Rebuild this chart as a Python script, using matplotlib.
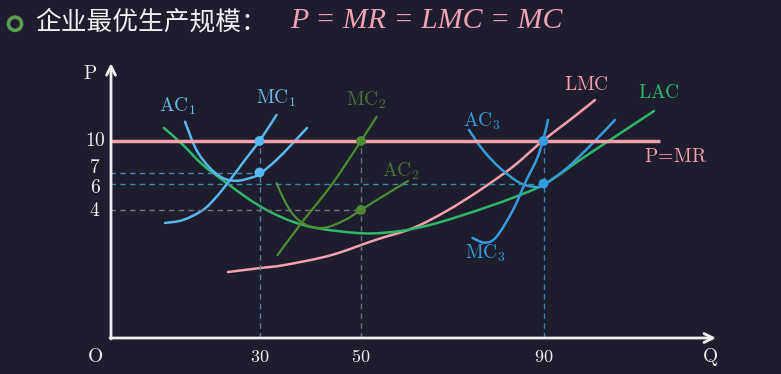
import matplotlib
matplotlib.use('Agg')
import matplotlib.pyplot as plt
from matplotlib.path import Path
from matplotlib.patches import PathPatch

plt.rcParams['font.family'] = ['Noto Sans CJK SC', 'DejaVu Sans']
plt.rcParams['mathtext.fontset'] = 'cm'

# curves in diagram units (x: quantity axis, y: price axis, schematic)
ac1_x = [15.0, 17.3, 20.0, 22.6, 25.3, 28.0, 29.9, 33.3, 36.6, 39.4]
ac1_y = [10.98, 9.54, 8.63, 8.12, 7.98, 8.12, 8.32, 9.04, 9.90, 10.66]

mc1_x = [11.0, 14.6, 18.6, 21.3, 24.0, 27.3, 29.9, 33.3]
mc1_y = [5.84, 5.99, 6.50, 7.17, 8.02, 9.14, 10.0, 11.32]

lac_x = [10.8, 14.6, 18.6, 23.3, 28.0, 32.0, 36.6, 42.0, 51.0, 58.0,
         64.0, 70.0, 76.0, 81.0, 87.0, 94.0, 100.6, 108.8]
lac_y = [10.66, 9.80, 8.78, 7.87, 7.01, 6.41, 5.90, 5.55, 5.31, 5.43,
         5.74, 6.19, 6.70, 7.16, 7.82, 9.04, 10.15, 11.52]

mc2_x = [33.5, 38.3, 44.3, 50.2, 53.3]
mc2_y = [4.21, 5.84, 7.77, 10.0, 11.23]

ac2_x = [33.3, 35.0, 37.0, 39.6, 43.0, 47.0, 50.2, 55.0, 59.6]
ac2_y = [7.87, 6.92, 6.16, 5.70, 5.60, 5.99, 6.50, 7.26, 7.97]

lmc_x = [23.6, 30.0, 35.0, 44.3, 53.0, 60.6, 67.4, 74.0, 80.6, 86.6, 92.0, 97.0]
lmc_y = [3.35, 3.55, 3.71, 4.21, 4.97, 5.58, 6.46, 7.51, 8.70, 10.02, 11.07, 12.08]

ac3_x = [71.8, 74.6, 78.0, 82.0, 85.4, 87.0, 91.4, 96.6, 101.0]
ac3_y = [10.56, 9.54, 8.63, 7.87, 7.66, 7.82, 8.63, 9.90, 11.07]

mc3_x = [72.5, 75.0, 77.3, 80.6, 83.3, 85.3, 86.6, 87.6]
mc3_y = [5.08, 4.84, 5.14, 6.50, 8.02, 9.04, 10.02, 11.07]

# optimum points for the three plant sizes
q_labels = ['30', '50', '90']
q_pos = [29.9, 50.2, 86.7]
mc_at_q = [10.0, 10.0, 10.0]
ac_at_q = [8.4, 6.5, 7.84]

p_labels = ['10', '7', '6', '4']
p_pos = [10.0, 8.4, 7.84, 6.5]

mr_level = 10.0
mr_end = 110.0

BG = '#1e1d2d'
PINK = '#f5a0aa'
GREEN = '#2db86a'
BLUE1 = '#5ab6ee'
BLUE3 = '#369bdc'
OLIVE = '#4f8a35'
WHITE = '#f0f0f0'


def smooth_curve(ax, xs, ys, color, lw):
    # Catmull-Rom through the read points, handed to matplotlib as cubic Bezier segments
    pts = list(zip(xs, ys))
    verts = [pts[0]]
    codes = [Path.MOVETO]
    n = len(pts)
    for i in range(n - 1):
        p0 = pts[i - 1] if i > 0 else pts[i]
        p1 = pts[i]
        p2 = pts[i + 1]
        p3 = pts[i + 2] if i + 2 < n else pts[i + 1]
        c1 = (p1[0] + (p2[0] - p0[0]) / 6, p1[1] + (p2[1] - p0[1]) / 6)
        c2 = (p2[0] - (p3[0] - p1[0]) / 6, p2[1] - (p3[1] - p1[1]) / 6)
        verts += [c1, c2, p2]
        codes += [Path.CURVE4] * 3
    ax.add_patch(PathPatch(Path(verts, codes), facecolor='none', edgecolor=color,
                           lw=lw, capstyle='round'))


fig = plt.figure(figsize=(7.81, 3.74), dpi=100)
fig.patch.set_facecolor(BG)
ax = fig.add_axes([0, 0, 1, 1])
ax.set_facecolor(BG)
ax.set_xlim(-22.0, 134.2)
ax.set_ylim(-1.827, 17.157)
ax.axis('off')

# dashed guide lines
ax.plot([0, q_pos[0]], [ac_at_q[0], ac_at_q[0]], lw=1, color='#4d80c0', dashes=(4, 3))
ax.plot([0, q_pos[2]], [ac_at_q[2], ac_at_q[2]], lw=1, color='#3d8e9e', dashes=(4, 3))
ax.plot([0, q_pos[1]], [ac_at_q[1], ac_at_q[1]], lw=1, color='#777777', dashes=(4, 3))
vcolors = ['#5a7d9e', '#6a7272', '#3a80b8']
for q, top, c in zip(q_pos, mc_at_q, vcolors):
    ax.plot([q, q], [0, top], lw=1, color=c, dashes=(4, 3))

# P = MR
ax.plot([0, mr_end], [mr_level, mr_level], color=PINK, lw=2.5, solid_capstyle='butt')

# cost curves
smooth_curve(ax, lmc_x, lmc_y, PINK, 1.8)
smooth_curve(ax, lac_x, lac_y, GREEN, 1.8)
smooth_curve(ax, ac1_x, ac1_y, BLUE1, 1.8)
smooth_curve(ax, mc1_x, mc1_y, BLUE1, 1.8)
smooth_curve(ax, mc2_x, mc2_y, OLIVE, 1.6)
smooth_curve(ax, ac2_x, ac2_y, OLIVE, 1.6)
smooth_curve(ax, ac3_x, ac3_y, BLUE3, 1.8)
smooth_curve(ax, mc3_x, mc3_y, BLUE3, 1.8)

# points
dot_colors = [BLUE1, OLIVE, BLUE3]
ax.scatter(q_pos, mc_at_q, s=50, c=dot_colors, zorder=5, linewidths=0)
ax.scatter(q_pos, ac_at_q, s=50, c=dot_colors, zorder=5, linewidths=0)

# axes with arrows
arrow = dict(arrowstyle='->', color=WHITE, lw=2, mutation_scale=16, shrinkA=0, shrinkB=0)
ax.annotate('', xy=(0.2, 13.95), xytext=(0.2, -0.05), arrowprops=arrow)
ax.annotate('', xy=(121.2, 0), xytext=(0, 0), arrowprops=arrow)

fs = 14
ax.text(-4.0, 13.45, r'$\mathrm{P}$', color=WHITE, fontsize=fs, ha='center', va='center')
ax.text(-3.0, -0.96, r'$\mathrm{O}$', color=WHITE, fontsize=fs, ha='center', va='center')
ax.text(120.0, -0.96, r'$\mathrm{Q}$', color=WHITE, fontsize=fs, ha='center', va='center')

nudge = [0.0, 0.23, -0.18, -0.05]
for lab, y, dy in zip(p_labels, p_pos, nudge):
    ax.text(-3.0, y + dy, r'$\mathrm{%s}$' % lab, color=WHITE, fontsize=fs, ha='center', va='center')
for lab, x in zip(q_labels, q_pos):
    ax.text(x, -0.96, r'$\mathrm{%s}$' % lab, color=WHITE, fontsize=fs - 1, ha='center', va='center')

# curve labels
labels = [
    (13.6, 11.78, r'$\mathrm{AC}_1$', '#6ab8e8'),
    (33.2, 12.18, r'$\mathrm{MC}_1$', '#6ab8e8'),
    (51.2, 12.08, r'$\mathrm{MC}_2$', '#4a7038'),
    (58.2, 8.48, r'$\mathrm{AC}_2$', '#4a7038'),
    (74.4, 11.02, r'$\mathrm{AC}_3$', BLUE3),
    (75.0, 4.31, r'$\mathrm{MC}_3$', BLUE3),
    (95.2, 12.89, r'$\mathrm{LMC}$', PINK),
    (109.8, 12.44, r'$\mathrm{LAC}$', GREEN),
    (113.2, 9.19, r'$\mathrm{P\!=\!MR}$', PINK),
]
for x, y, s, c in labels:
    ax.text(x, y, s, color=c, fontsize=fs, ha='center', va='center')

# title
ax.scatter([-19.0], [15.95], s=90, facecolors='none', edgecolors='#5a9e52', linewidths=2.6, zorder=6)
fig.text(35 / 781, 1 - 22 / 374, '企业最优生产规模：', color=WHITE, fontsize=18.5,
         ha='left', va='center')
fig.text(290 / 781, 1 - 21 / 374, 'P = MR = LMC = MC', color='#f2a2b2', fontsize=21.5,
         family='Liberation Serif', style='italic', ha='left', va='center')

fig.savefig('out.png', dpi=100, facecolor=BG)
